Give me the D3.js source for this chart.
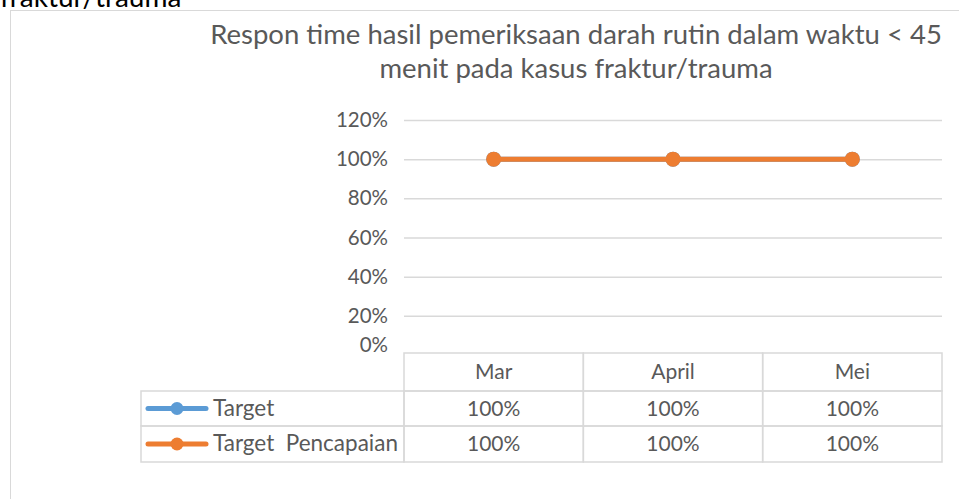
<!DOCTYPE html>
<html>
<head>
<meta charset="utf-8">
<script src="https://cdn.jsdelivr.net/npm/d3@7"></script>
<style>
  body { margin: 0; background: #fff; }
  svg { display: block; }
</style>
</head>
<body>
<svg id="chart" width="959" height="499"></svg>
<script>
const months = ["Mar", "April", "Mei"];
const targetValues = [1, 1, 1];
const pencapaianValues = [1, 1, 1];
const yTicks = [0, 0.2, 0.4, 0.6, 0.8, 1.0, 1.2];
const seriesNames = ["Target", "Target  Pencapaian"];
const titleLines = ["Respon time hasil pemeriksaan darah rutin dalam waktu < 45", "menit pada kasus fraktur/trauma"];

const series = [
    { name: seriesNames[0], values: targetValues, color: "#5B9BD5" },
    { name: seriesNames[1], values: pencapaianValues, color: "#ED7D31" }
];

const font = "Lato, 'Open Sans', sans-serif";
const grey = "#595959";
const border = "#d9d9d9";
const labelSize = "21px";

const svg = d3.select("#chart").style("font-family", font);

// cut off heading above the chart
svg.append("text")
    .attr("x", 0).attr("y", 7)
    .style("font-size", "28px")
    .attr("fill", "#000")
    .text("fraktur/trauma");

// chart frame
svg.append("rect")
    .attr("x", 10.5).attr("y", 10.5)
    .attr("width", 980).attr("height", 520)
    .attr("fill", "#fff")
    .attr("stroke", border);

svg.append("g")
    .selectAll("text")
    .data(titleLines)
    .join("text")
    .attr("x", 576)
    .attr("y", (d, i) => 44 + i * 34)
    .attr("text-anchor", "middle")
    .style("font-size", "27.5px")
    .attr("fill", grey)
    .text(d => d);

const plotLeft = 404, plotRight = 942, plotTop = 120, plotBottom = 355;

const x = d3.scaleBand().domain(months).range([plotLeft, plotRight]);
const y = d3.scaleLinear().domain([0, 1.2]).range([plotBottom, plotTop]);

// gridlines + tick labels
const yAxis = svg.append("g")
    .attr("transform", `translate(${plotLeft},0)`)
    .call(d3.axisLeft(y).tickValues(yTicks).tickFormat(d3.format(".0%")).tickSize(-(plotRight - plotLeft)).tickPadding(16));
yAxis.select(".domain").remove();
yAxis.selectAll(".tick line").attr("stroke", border).attr("stroke-width", 1.5)
    .filter(d => d === 0).remove();
yAxis.selectAll(".tick text")
    .style("font-size", "20.5px")
    .style("font-family", font)
    .attr("fill", grey)
    .attr("dy", d => d === 0 ? "-0.15em" : "0.32em");

// data table
const rowH = [38, 35, 36];
const tableLeft = 141;
const rowY = [plotBottom - 2];
rowH.forEach((h, i) => rowY.push(rowY[i] + h));

const table = svg.append("g");
months.forEach(m => {
    table.append("rect")
        .attr("x", x(m)).attr("y", rowY[0])
        .attr("width", x.bandwidth()).attr("height", rowH[0])
        .attr("fill", "none").attr("stroke", border).attr("stroke-width", 1.5);
    table.append("text")
        .attr("x", x(m) + x.bandwidth() / 2).attr("y", rowY[0] + rowH[0] / 2 + 7)
        .attr("text-anchor", "middle")
        .style("font-size", labelSize).attr("fill", grey)
        .text(m);
});

series.forEach((s, r) => {
    const yy = rowY[r + 1], h = rowH[r + 1];
    table.append("rect")
        .attr("x", tableLeft).attr("y", yy)
        .attr("width", plotLeft - tableLeft).attr("height", h)
        .attr("fill", "none").attr("stroke", border).attr("stroke-width", 1.5);
    table.append("line")
        .attr("x1", 148).attr("x2", 206)
        .attr("y1", yy + h / 2).attr("y2", yy + h / 2)
        .attr("stroke", s.color).attr("stroke-width", 5).attr("stroke-linecap", "round");
    table.append("circle")
        .attr("cx", 177).attr("cy", yy + h / 2).attr("r", 6.5)
        .attr("fill", s.color);
    table.append("text")
        .attr("x", 213).attr("y", yy + h / 2 + 7)
        .style("font-size", "22.5px").attr("fill", grey)
        .style("white-space", "pre")
        .text(s.name);
    months.forEach((m, i) => {
        table.append("rect")
            .attr("x", x(m)).attr("y", yy)
            .attr("width", x.bandwidth()).attr("height", h)
            .attr("fill", "none").attr("stroke", border).attr("stroke-width", 1.5);
        table.append("text")
            .attr("x", x(m) + x.bandwidth() / 2).attr("y", yy + h / 2 + 7)
            .attr("text-anchor", "middle")
            .style("font-size", labelSize).attr("fill", grey)
            .text(d3.format(".0%")(s.values[i]));
    });
});

// series lines
const line = d3.line()
    .x((d, i) => x(months[i]) + x.bandwidth() / 2)
    .y(d => y(d));

series.forEach(s => {
    svg.append("path")
        .datum(s.values)
        .attr("d", line)
        .attr("fill", "none")
        .attr("stroke", s.color)
        .attr("stroke-width", 5)
        .attr("stroke-linecap", "round");
    svg.append("g")
        .selectAll("circle")
        .data(s.values)
        .join("circle")
        .attr("cx", (d, i) => x(months[i]) + x.bandwidth() / 2)
        .attr("cy", d => y(d))
        .attr("r", 7.5)
        .attr("fill", s.color);
});
</script>
</body>
</html>
